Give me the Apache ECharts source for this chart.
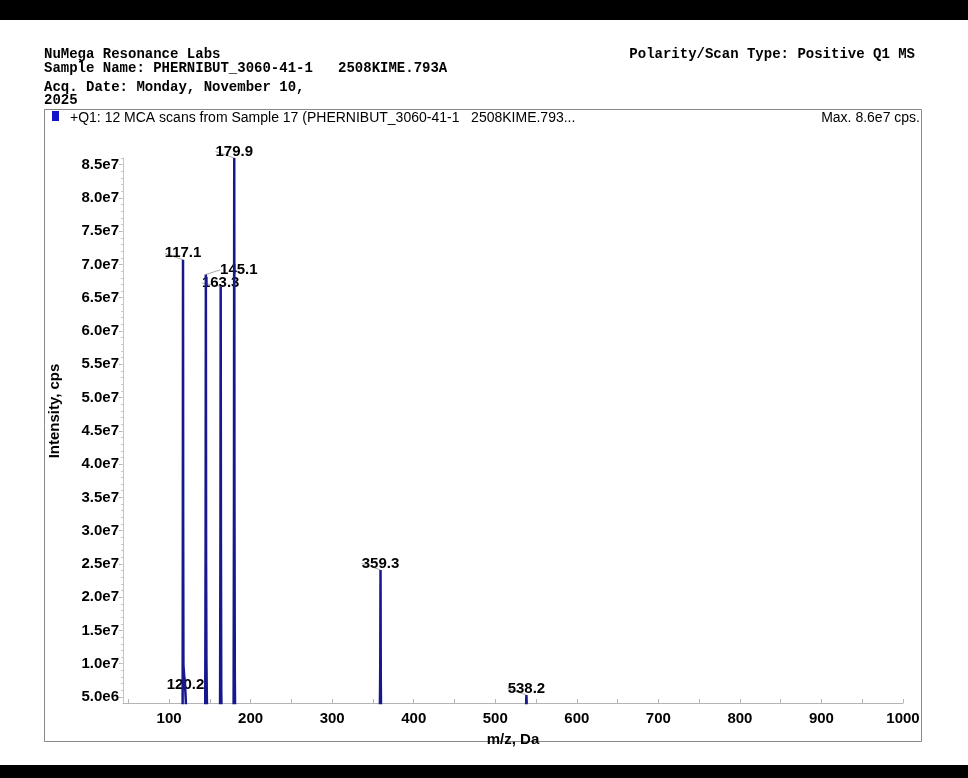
<!DOCTYPE html>
<html>
<head>
<meta charset="utf-8">
<script src="https://cdn.jsdelivr.net/npm/echarts@6/dist/echarts.min.js"></script>
<style>
  html, body { margin: 0; padding: 0; background: #fff; }
  #main { width: 968px; height: 778px; }
</style>
</head>
<body>
<div id="main"></div>
<script>
// profile points of the spectrum (m/z, cps); baseline sits below the axis min
var mz = [43.5,
    115.5, 116.6, 116.9, 117.1, 117.3, 117.6, 118.1, 118.6, 119.1, 119.9, 120.2, 120.5, 121.0,
    144.3, 144.8, 145.1, 145.4, 145.8, 146.3, 146.8,
    162.5, 163.0, 163.3, 163.6, 164.0, 164.5,
    179.1, 179.6, 179.9, 180.2, 180.6, 181.1,
    358.3, 358.8, 359.0, 359.3, 359.6, 360.0,
    537.6, 538.0, 538.2, 538.4, 538.8,
    1000];
var intensity = [1e6,
    1e6, 2.5e6, 3.2e7, 7.07e7, 3.0e7, 9.8e6, 9.5e6, 8.0e6, 7.2e6, 6.0e6, 5.9e6, 4.5e6, 1e6,
    1e6, 2.8e7, 6.85e7, 2.5e7, 1.05e7, 5e6, 1e6,
    1e6, 3.0e7, 6.67e7, 2.8e7, 6e6, 1e6,
    1e6, 3.5e7, 8.6e7, 3.34e7, 8e6, 1e6,
    1e6, 6.8e6, 1.1e7, 2.41e7, 8e6, 1e6,
    1e6, 4.6e6, 5.3e6, 4.6e6, 1e6,
    1e6];

// labelled peaks
var peakMz = [117.1, 120.2, 145.1, 163.3, 179.9, 359.3, 538.2];
var peakInt = [7.07e7, 5.9e6, 6.85e7, 6.67e7, 8.6e7, 2.41e7, 5.3e6];

// axis labels
var xLabels = [100, 200, 300, 400, 500, 600, 700, 800, 900, 1000];
var yLabels = [5e6, 1e7, 1.5e7, 2e7, 2.5e7, 3e7, 3.5e7, 4e7, 4.5e7, 5e7, 5.5e7, 6e7, 6.5e7, 7e7, 7.5e7, 8e7, 8.5e7];

var xTicks = [];
for (var t = 50; t <= 1000; t += 50) xTicks.push(t);
var yMinor = [];
for (var k = 5; k <= 86; k++) yMinor.push(k * 1e6);

var line = [];
for (var i = 0; i < mz.length; i++) line.push([mz[i], intensity[i]]);
var peaks = [];
for (var j = 0; j < peakMz.length; j++) peaks.push([peakMz[j], peakInt[j]]);

function sci(v) {
    var e = Math.floor(Math.log10(v) + 1e-9);
    return (v / Math.pow(10, e)).toFixed(1) + 'e' + e;
}

var mono = 'bold 14px "Liberation Mono", "Courier New", monospace';
var sans = '"Liberation Sans", Arial, sans-serif';

var myChart = echarts.init(document.getElementById('main'));

var option = {
    backgroundColor: '#fff',
    animation: false,
    grid: { left: 123, top: 158, width: 780, height: 545, outerBoundsMode: 'none', containLabel: false },
    xAxis: {
        type: 'value',
        min: 43.5,
        max: 1000,
        name: 'm/z, Da',
        nameLocation: 'middle',
        nameGap: 29,
        nameTextStyle: { fontFamily: sans, fontWeight: 'bold', fontSize: 15, color: '#000' },
        splitLine: { show: false },
        axisLine: { lineStyle: { color: '#b4b4b4' } },
        axisTick: { inside: true, length: 4, customValues: xTicks, lineStyle: { color: '#b4b4b4' } },
        axisLabel: {
            customValues: xLabels, margin: 8,
            fontFamily: sans, fontWeight: 'bold', fontSize: 15, color: '#000',
            formatter: function (v) { return String(v); }
        }
    },
    yAxis: [{
        type: 'value',
        min: 4.1e6,
        max: 8.6e7,
        splitLine: { show: false },
        axisLine: { show: true, lineStyle: { color: '#c4c4c4' } },
        axisTick: { length: 4, customValues: yLabels, lineStyle: { color: '#b4b4b4' } },
        axisLabel: {
            customValues: yLabels, margin: 4,
            fontFamily: sans, fontWeight: 'bold', fontSize: 15, color: '#000',
            formatter: sci
        }
    }, {
        type: 'value',
        min: 4.1e6,
        max: 8.6e7,
        position: 'left',
        splitLine: { show: false },
        axisLine: { show: false },
        axisLabel: { show: false },
        axisTick: { length: 2, customValues: yMinor, lineStyle: { color: '#c8c8c8' } }
    }],
    series: [{
        type: 'line',
        data: line,
        symbol: 'none',
        clip: true,
        lineStyle: { color: '#18188e', width: 2.5 }
    }, {
        type: 'scatter',
        data: peaks,
        symbolSize: 0,
        silent: true,
        itemStyle: { opacity: 1 },
        label: {
            show: true,
            position: 'top',
            distance: -1,
            opacity: 1,
            fontFamily: sans, fontWeight: 'bold', fontSize: 15, color: '#000',
            textBorderWidth: 0,
            formatter: function (p) { return p.value[0].toFixed(1); }
        },
        labelLine: { show: true, lineStyle: { color: '#aaa', width: 1, opacity: 1 } },
        labelLayout: function (p) {
            if (p.dataIndex === 2) return { dx: 33, dy: 2 };
            if (p.dataIndex === 3) return { dy: 3 };
            return {};
        }
    }],
    graphic: [
        { type: 'rect', shape: { x: 0, y: 0, width: 968, height: 20 }, style: { fill: '#000' } },
        { type: 'rect', shape: { x: 0, y: 765, width: 968, height: 13 }, style: { fill: '#000' } },
        { type: 'text', x: 44, y: 54, style: { text: 'NuMega Resonance Labs', font: mono, fill: '#000', verticalAlign: 'middle' } },
        { type: 'text', x: 44, y: 68, style: { text: 'Sample Name: PHERNIBUT_3060-41-1   2508KIME.793A', font: mono, fill: '#000', verticalAlign: 'middle' } },
        { type: 'text', x: 44, y: 87, style: { text: 'Acq. Date: Monday, November 10,', font: mono, fill: '#000', verticalAlign: 'middle' } },
        { type: 'text', x: 44, y: 100, style: { text: '2025', font: mono, fill: '#000', verticalAlign: 'middle' } },
        { type: 'text', x: 915, y: 54, style: { text: 'Polarity/Scan Type: Positive Q1 MS', font: mono, fill: '#000', align: 'right', verticalAlign: 'middle' } },
        { type: 'rect', shape: { x: 44.5, y: 109.5, width: 877, height: 632 }, style: { fill: 'none', stroke: '#888', lineWidth: 1 } },
        { type: 'rect', shape: { x: 52, y: 111, width: 7, height: 10 }, style: { fill: '#1414c8' } },
        { type: 'text', x: 70, y: 118, style: { text: '+Q1: 12 MCA scans from Sample 17 (PHERNIBUT_3060-41-1   2508KIME.793...', font: '14px ' + sans, fill: '#000', verticalAlign: 'middle' } },
        { type: 'text', x: 920, y: 118, style: { text: 'Max. 8.6e7 cps.', font: '14px ' + sans, fill: '#000', align: 'right', verticalAlign: 'middle' } },
        { type: 'text', x: 55, y: 411, rotation: Math.PI / 2, style: { text: 'Intensity, cps', font: 'bold 15px ' + sans, fill: '#000', align: 'center', verticalAlign: 'middle' } }
    ]
};

myChart.setOption(option);
</script>
</body>
</html>
